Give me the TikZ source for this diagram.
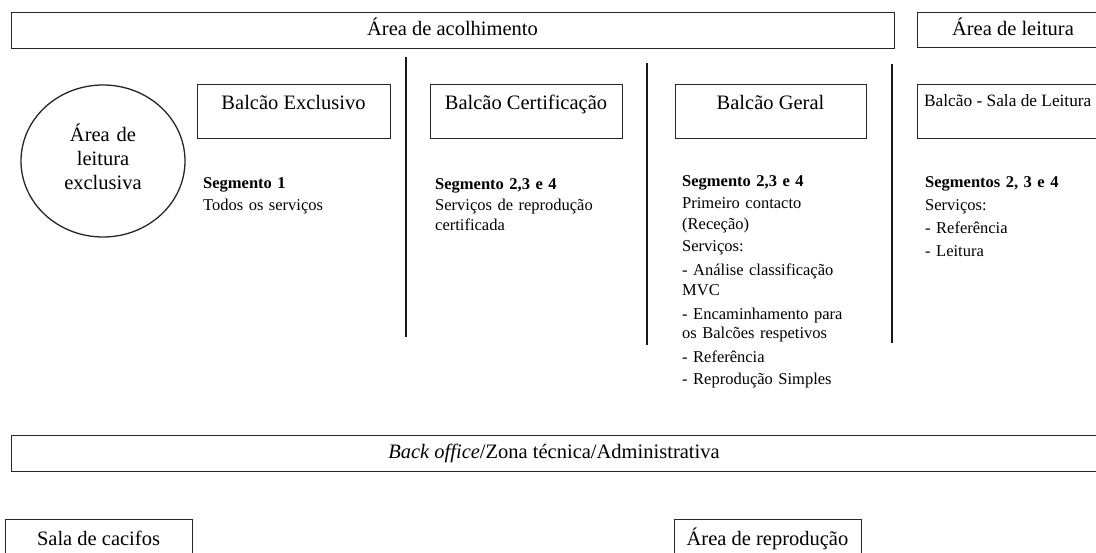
\documentclass[tikz,border=0pt]{standalone}
\usepackage{fontspec}
\setmainfont{Liberation Serif}
\usetikzlibrary{shapes.geometric}
\begin{document}
\begin{tikzpicture}[x=1pt,y=-1pt,
  frame/.style={draw=black!85, line width=1.3pt, inner sep=0pt, anchor=north west},
  divider/.style={draw=black!90, line width=2pt},
  title/.style={font=\fontsize{20.5}{24}\selectfont, inner sep=0pt, anchor=base},
  body/.style={font=\fontsize{16.5}{19.5}\selectfont, inner sep=0pt, anchor=base west,
    text width=230pt, align=left},
]
\useasboundingbox (0,0) rectangle (1096,553);
\clip (0,0) rectangle (1096,553);
\fill[white] (0,0) rectangle (1096,553);

% reception and reading areas
\node[frame, minimum width=883, minimum height=36] (acolh) at (11,12) {};
\node[title] (acolhT) at (452.5,36) {Área de acolhimento};
\node[frame, minimum width=193, minimum height=35] (leit) at (917,12) {};
\node[title] (leitT) at (1013,36) {Área de leitura};

% column dividers
\coordinate (d1t) at (406,57);  \coordinate (d1b) at (406,337);
\coordinate (d2t) at (647,63);  \coordinate (d2b) at (647,345);
\coordinate (d3t) at (892,64);  \coordinate (d3b) at (892,343);
\draw[divider] (d1t) -- (d1b);
\draw[divider] (d2t) -- (d2b);
\draw[divider] (d3t) -- (d3b);

% exclusive reading area
\node[draw=black!85, line width=1.3pt, ellipse, minimum width=164, minimum height=152,
  inner sep=0pt] (excl) at (103,161) {};
\node[title, text width=160pt, align=center] (exclT) at (103,142)
  {Área de\\leitura\\exclusiva};

% counters
\node[frame, minimum width=193, minimum height=54] (bexc) at (197,84) {};
\node[title] (bexcT) at (293.5,110) {Balcão Exclusivo};
\node[frame, minimum width=192, minimum height=54] (bcer) at (430,84) {};
\node[title] (bcerT) at (526,110) {Balcão Certificação};
\node[frame, minimum width=191, minimum height=54] (bger) at (675,84) {};
\node[title] (bgerT) at (770.5,110) {Balcão Geral};
\node[frame, minimum width=200, minimum height=54] (bsal) at (917,84) {};
\node[title, anchor=base west, font=\fontsize{17.3}{20}\selectfont] (bsalT) at (924,107)
  {Balcão - Sala de Leitura};

% counter descriptions
\node[body] (t1) at (203,189) {\textbf{Segmento 1}\\[2.5pt]Todos os serviços};
\node[body] (t2) at (435,190) {\textbf{Segmento 2,3 e 4}\\[1.5pt]Serviços de reprodução\\certificada};
\node[body] (t3) at (682,187) {\textbf{Segmento 2,3 e 4}\\[2.5pt]Primeiro contacto\\[1.5pt](Receção)\\[2.5pt]Serviços:\\[4.5pt]- Análise classificação\\MVC\\[4.5pt]- Encaminhamento para\\os Balcões respetivos\\[4.5pt]- Referência\\[2.5pt]- Reprodução Simples};
\node[body] (t4) at (925,188) {\textbf{Segmentos 2, 3 e 4}\\[3.5pt]Serviços:\\[3.5pt]- Referência\\[3.5pt]- Leitura};

% back office
\node[frame, minimum width=1092, minimum height=36] (back) at (11,435) {};
\node[title] (backT) at (554,459) {\textit{Back office}/Zona técnica/Administrativa};

% lockers and reproduction
\node[frame, minimum width=187, minimum height=50] (caci) at (5,519) {};
\node[title] (caciT) at (98.5,545) {Sala de cacifos};
\node[frame, minimum width=187, minimum height=50] (repr) at (674,519) {};
\node[title] (reprT) at (767.5,545) {Área de reprodução};
\end{tikzpicture}
\end{document}
